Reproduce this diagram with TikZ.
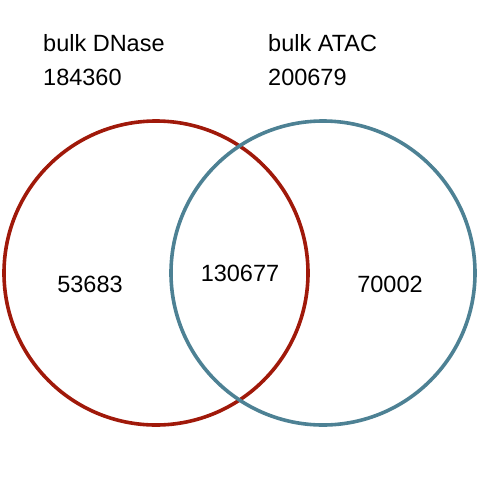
\documentclass[tikz,border=0pt]{standalone}
\usepackage{fontspec}
\setmainfont{Liberation Sans}
\usetikzlibrary{positioning}
\definecolor{dnasered}{HTML}{A0190A}
\definecolor{atacblue}{HTML}{4D8194}

\begin{document}
\begin{tikzpicture}[x=1pt,y=-1pt,line cap=round,line join=round,
  setlabel/.style={anchor=base west,inner sep=0pt,font=\fontsize{23.5}{28}\selectfont},
  count/.style={inner sep=0pt,font=\fontsize{23.5}{28}\selectfont}]
\useasboundingbox (0,0) rectangle (480,480);
% sets
\draw[dnasered,line width=3.6pt] (156,273) circle[radius=152];
\draw[atacblue,line width=3.6pt] (323,273) circle[radius=152];
% set labels
\node[setlabel] (dnasename) at (43,51) {bulk DNase};
\node[setlabel] (dnasetotal) at (43,85) {184360};
\node[setlabel] (atacname) at (268,51) {bulk ATAC};
\node[setlabel] (atactotal) at (268,85) {200679};
% region counts
\node[count] (onlydnase) at (90,284) {53683};
\node[count] (both) at (240,273) {130677};
\node[count] (onlyatac) at (390,284) {70002};
\end{tikzpicture}
\end{document}
